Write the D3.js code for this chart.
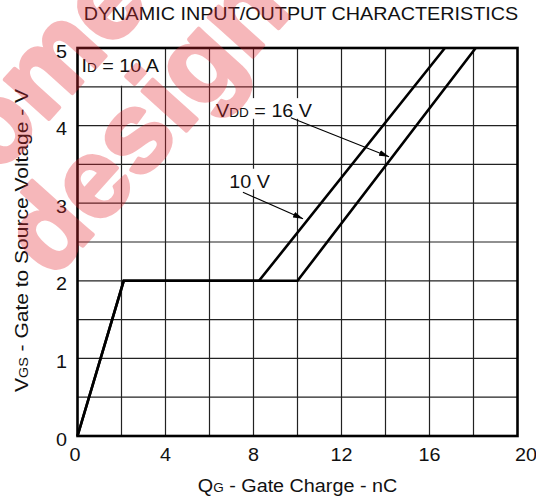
<!DOCTYPE html>
<html lang="en">
  <head>
    <meta charset="utf-8">
    <title>Dynamic input/output characteristics</title>
    <style>
      body { margin: 0; background: #fff; }
      svg { display: block; }
      text { font-family: 'Liberation Sans', Arial, sans-serif; fill: #111; }
      .grid line { stroke: #222; stroke-width: 1.2; }
      .curve { fill: none; stroke: #000; stroke-width: 2.6; stroke-linejoin: miter; }
      .arrow { stroke: #000; stroke-width: 1.1; }
      .wm text { font-family: 'Liberation Sans', Arial, sans-serif; font-weight: bold; fill: rgb(230,40,50); stroke: rgb(230,40,50); stroke-width: 4; stroke-linejoin: round; }
    </style>
  </head>
  <body>
    <div id="viz"></div>
    <script src="https://d3js.org/d3.v7.min.js"></script>
    <script>
      // values
      const qgTicks = [0, 4, 8, 12, 16, 20];
      const vgsTicks = [0, 1, 2, 3, 4, 5];
      const qg10 = [0, 2.1, 8.25, 16.7];
      const vgs10 = [0, 2, 2, 5];
      const qg16 = [0, 2.1, 10.0, 18.1];
      const vgs16 = [0, 2, 2, 5];

      const W = 536, H = 499;
      const margin = { top: 48, left: 77.5, bottom: 63, right: 18.5 },
        width = W - margin.left - margin.right,
        height = H - margin.top - margin.bottom;
      const sx = 1.13, fs = 17.5, sub = 12;

      const svg = d3.select("#viz").append("svg")
        .attr("width", W).attr("height", H);

      const x = d3.scaleLinear().domain([0, 20]).range([margin.left, margin.left + width]);
      const y = d3.scaleLinear().domain([0, 5]).range([margin.top + height, margin.top]);

      const defs = svg.append("defs");
      defs.append("marker").attr("id", "head")
        .attr("markerUnits", "userSpaceOnUse")
        .attr("markerWidth", 10).attr("markerHeight", 6)
        .attr("refX", 10).attr("refY", 3).attr("orient", "auto")
        .append("path").attr("d", "M0,0L10,3L0,6z").attr("fill", "#000");

      const stext = (g, px, py) => g.append("text")
        .attr("transform", `translate(${px},${py}) scale(${sx},1)`)
        .attr("font-size", fs);

      // labels inside the plot (measured for the grid gaps)
      const labels = [
        { q: 0.18, v: 4.69, parts: [["I", fs], ["D", sub], [" = 10 A", fs]], gap: [4.5, 5] },
        { q: 6.3, v: 4.11, parts: [["V", fs], ["DD", sub], [" = 16 V", fs]] },
        { q: 6.9, v: 3.2, parts: [["10 V", fs]] }
      ];
      const arrows = [
        { q0: 9.7, v0: 4.1, q1: 14.16, v1: 3.6 },
        { q0: 7.52, v0: 3.14, q1: 10.25, v1: 2.8 }
      ];

      const gridG = svg.append("g").attr("class", "grid");
      const frame = svg.append("rect");
      const curveG = svg.append("g");
      const labelG = svg.append("g");

      labels.forEach(l => {
        const t = stext(labelG, x(l.q), y(l.v));
        l.parts.forEach(p => t.append("tspan").attr("font-size", p[1]).text(p[0]));
        l.node = t.node();
      });

      // mask out the vertical grid lines behind the labels
      const svgBox = svg.node().getBoundingClientRect();
      const mask = defs.append("mask").attr("id", "gapMask").attr("maskUnits", "userSpaceOnUse")
        .attr("x", 0).attr("y", 0).attr("width", W).attr("height", H);
      mask.append("rect").attr("width", W).attr("height", H).attr("fill", "#fff");
      labels.forEach(l => {
        const b = l.node.getBoundingClientRect();
        let y0 = b.top - svgBox.top - 3, y1 = b.bottom - svgBox.top - 2;
        if (l.gap) { y0 = y(l.gap[1]); y1 = y(l.gap[0]) - 1; }
        mask.append("rect")
          .attr("x", b.left - svgBox.left - 3).attr("y", y0)
          .attr("width", b.width + 6).attr("height", y1 - y0)
          .attr("fill", "#000");
      });

      gridG.append("g").attr("mask", "url(#gapMask)")
        .selectAll("line").data(d3.range(2, 20, 2)).join("line")
        .attr("x1", d => x(d)).attr("x2", d => x(d))
        .attr("y1", y(0)).attr("y2", y(5));
      gridG.append("g")
        .selectAll("line").data(d3.range(0.5, 5, 0.5)).join("line")
        .attr("x1", x(0)).attr("x2", x(20))
        .attr("y1", d => y(d)).attr("y2", d => y(d));

      frame.attr("x", x(0)).attr("y", y(5))
        .attr("width", x(20) - x(0)).attr("height", y(0) - y(5))
        .attr("fill", "none").attr("stroke", "#000").attr("stroke-width", 2.6);

      const line = d3.line().x(d => x(d[0])).y(d => y(d[1]));
      curveG.append("path").attr("class", "curve").attr("d", line(d3.zip(qg16, vgs16)));
      curveG.append("path").attr("class", "curve").attr("d", line(d3.zip(qg10, vgs10)));

      labelG.selectAll("line.arrow").data(arrows).join("line")
        .attr("class", "arrow")
        .attr("x1", d => x(d.q0)).attr("y1", d => y(d.v0))
        .attr("x2", d => x(d.q1)).attr("y2", d => y(d.v1))
        .attr("marker-end", "url(#head)");

      // tick labels
      const nudge = { 0: -2.5, 20: 8.5 };
      qgTicks.forEach(v => {
        stext(svg, x(v) + (nudge[v] || 0), y(0) + 25).attr("text-anchor", "middle").text(v);
      });
      vgsTicks.forEach(v => {
        stext(svg, x(0) - 10.5, y(v) + 9.5).attr("text-anchor", "end").text(v);
      });

      // titles
      stext(svg, 301, 19.5).attr("text-anchor", "middle").text("DYNAMIC INPUT/OUTPUT CHARACTERISTICS");

      const xt = stext(svg, 297.5, 492).attr("text-anchor", "middle");
      xt.append("tspan").text("Q");
      xt.append("tspan").attr("font-size", sub).text("G");
      xt.append("tspan").text(" - Gate Charge - nC");

      const yt = svg.append("text")
        .attr("transform", "translate(28,240.5) rotate(-90) scale(1.2,1)")
        .attr("font-size", fs).attr("text-anchor", "middle");
      yt.append("tspan").text("V");
      yt.append("tspan").attr("font-size", sub).text("GS");
      yt.append("tspan").text(" - Gate to Source Voltage - V");

      // watermark, laid over the chart
      const wm = svg.append("g").attr("class", "wm").attr("opacity", 0.33)
        .attr("transform", "translate(52,280) rotate(-48)");
      wm.append("text").attr("font-size", 112).attr("x", 0).attr("y", 0).text("design");
      wm.append("text").attr("font-size", 112).attr("x", -21).attr("y", -110).text("some");
    </script>
  </body>
</html>
